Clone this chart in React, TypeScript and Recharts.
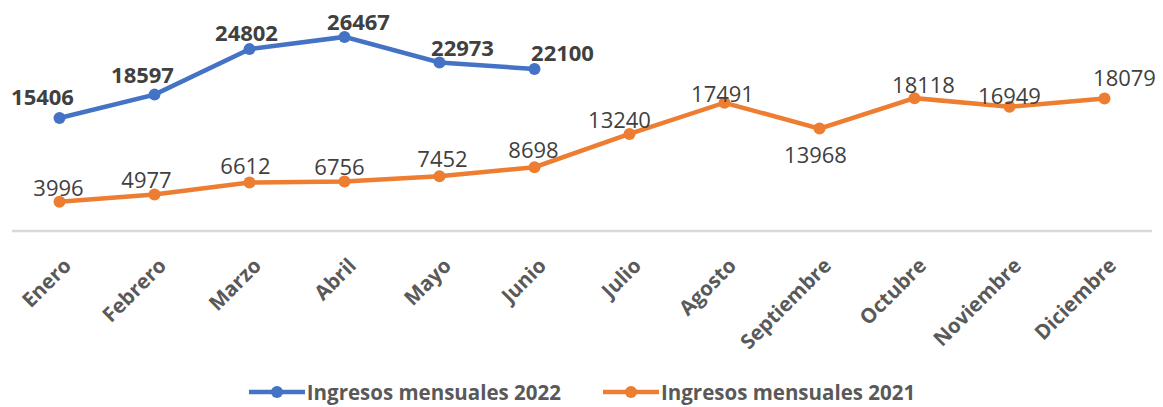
import React from 'react';
import { LineChart, Line, XAxis, YAxis, Legend } from 'recharts';

const months = [
  'Enero', 'Febrero', 'Marzo', 'Abril', 'Mayo', 'Junio',
  'Julio', 'Agosto', 'Septiembre', 'Octubre', 'Noviembre', 'Diciembre',
];
const ingresos2022 = [15406, 18597, 24802, 26467, 22973, 22100];
const ingresos2021 = [3996, 4977, 6612, 6756, 7452, 8698, 13240, 17491, 13968, 18118, 16949, 18079];

const data = months.map((mes, i) => ({
  mes,
  y2022: i < ingresos2022.length ? ingresos2022[i] : null,
  y2021: ingresos2021[i],
}));

// label nudges (dx, baseline dy) so they sit like the original
const shift2022 = [[-17, -13], [-12, -12], [-3, -8], [14, -7], [23, -7], [28, -8]];
const shift2021 = [
  [-1, -6], [-8, -7], [-4, -9], [-5, -6], [3, -9], [-1, -9],
  [-10, -6], [-2, -1], [-4, 34], [9, -5], [0, -3], [20, -12],
];

const BLUE = '#4472C4';
const ORANGE = '#ED7D31';
const FONT = '"Open Sans", sans-serif';

const makeLabel = (shifts: number[][], bold: boolean) => (props: any) => {
  const { x, y, value, index } = props;
  if (value == null) return null;
  const [dx, dy] = shifts[index] || [0, -8];
  return (
    <text
      x={x + dx}
      y={y + dy}
      textAnchor="middle"
      fontFamily={FONT}
      fontSize={22}
      fontWeight={bold ? 700 : 400}
      fill="#404040"
    >
      {value}
    </text>
  );
};

const MonthTick = (props: any) => {
  const { x, y, payload } = props;
  return (
    <g transform={`translate(${x + 13},${y + 28})`}>
      <text
        transform="rotate(-45)"
        textAnchor="end"
        fontFamily={FONT}
        fontSize={20.5}
        fontWeight={700}
        fill="#595959"
      >
        {payload.value}
      </text>
    </g>
  );
};

const LegendBox = () => (
  <div style={{ display: 'flex', justifyContent: 'center', gap: 42, paddingTop: 20, fontFamily: FONT }}>
    {[
      { name: 'Ingresos mensuales 2022', color: BLUE },
      { name: 'Ingresos mensuales 2021', color: ORANGE },
    ].map((it) => (
      <div key={it.name} style={{ display: 'flex', alignItems: 'center', height: 22 }}>
        <svg width={56} height={14}>
          <line x1={0} y1={7} x2={56} y2={7} stroke={it.color} strokeWidth={4.5} />
          <circle cx={28} cy={7} r={6} fill={it.color} />
        </svg>
        <span style={{ fontSize: 20.5, lineHeight: '22px', fontWeight: 700, color: '#595959', marginLeft: 2 }}>
          {it.name}
        </span>
      </div>
    ))}
  </div>
);

export default function App() {
  return (
    <div style={{ position: 'absolute', left: 0, top: 0, background: '#fff' }}>
      <LineChart width={1163} height={407} data={data} margin={{ top: 11, right: 11, bottom: 0, left: 12 }}>
        <XAxis
          dataKey="mes"
          scale="band"
          interval={0}
          tickLine={false}
          axisLine={{ stroke: '#d9d9d9', strokeWidth: 2.5 }}
          tick={<MonthTick />}
          height={130}
        />
        <YAxis hide domain={[0, 30000]} />
        <Legend verticalAlign="bottom" height={46} content={<LegendBox />} />
        <Line
          dataKey="y2022"
          stroke={BLUE}
          strokeWidth={4.5}
          dot={{ r: 6, fill: BLUE, stroke: BLUE, strokeWidth: 0 }}
          activeDot={false}
          connectNulls={false}
          isAnimationActive={false}
          label={makeLabel(shift2022, true)}
        />
        <Line
          dataKey="y2021"
          stroke={ORANGE}
          strokeWidth={4.5}
          dot={{ r: 6, fill: ORANGE, stroke: ORANGE, strokeWidth: 0 }}
          activeDot={false}
          isAnimationActive={false}
          label={makeLabel(shift2021, false)}
        />
      </LineChart>
    </div>
  );
}
